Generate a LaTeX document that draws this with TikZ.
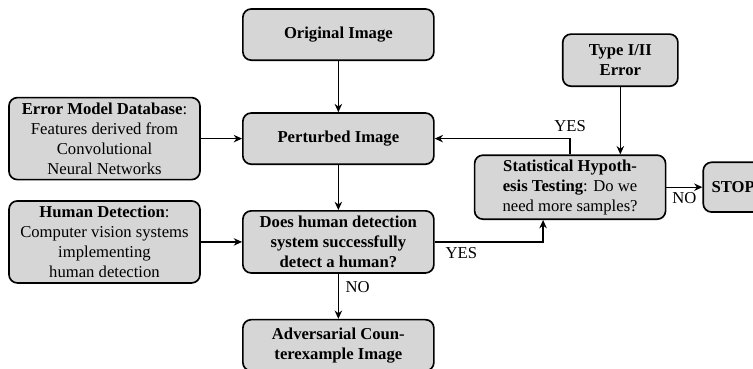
\documentclass[tikz,border=0pt]{standalone}
\usepackage{fontspec}
\setmainfont{Liberation Serif}
\usepackage{tikz}
\usetikzlibrary{arrows.meta, positioning, calc}
\definecolor{boxgray}{RGB}{214, 214, 214}

\begin{document}
\begin{tikzpicture}[
    stepbox/.style={draw, fill=boxgray, line width=1pt, rounded corners=5pt, minimum width=4.03cm, minimum height=1.08cm, font=\normalsize\rmfamily, align=center, inner sep=2pt},
    arrow/.style={-{Stealth[length=5pt, width=4.5pt]}, line width=0.8pt},
    label/.style={font=\normalsize\rmfamily, inner sep=1pt}
]
    \useasboundingbox (0,0) rectangle (15.89,-7.77);
    % Main column
    \node[stepbox] (original) at (7.14,-0.73) {\textbf{Original Image}};
    \node[stepbox, below=1.08cm of original] (perturbed) {\textbf{Perturbed Image}};
    \node[stepbox, minimum height=1.31cm, below=0.95cm of perturbed] (detect) {\textbf{Does human detection}\\\textbf{system successfully}\\\textbf{detect a human?}};
    \node[stepbox, below=0.95cm of detect] (adversarial) {\textbf{Adversarial Coun-}\\\textbf{terexample Image}};
    % Inputs on the left
    \node[stepbox, minimum height=1.73cm, left=0.87cm of perturbed] (errordb) {\textbf{Error Model Database}:\\Features derived from\\Convolutional\\Neural Networks};
    \node[stepbox, minimum height=1.73cm, left=0.87cm of detect] (humandet) {\textbf{Human Detection}:\\Computer vision systems\\implementing\\human detection};
    % Testing on the right
    \node[stepbox, minimum height=1.35cm] (stattest) at (12.03,-3.95) {\textbf{Statistical Hypoth-}\\\textbf{esis Testing}: Do we\\need more samples?};
    \node[stepbox, minimum width=2.43cm, minimum height=1.1cm] (typeerr) at (13.09,-1.27) {\textbf{Type I/II}\\\textbf{Error}};
    \node[stepbox, minimum width=0pt, inner xsep=5pt, minimum height=1.05cm, right=0.76cm of stattest] (stop) {\textbf{STOP}};

    % Connections
    \draw[arrow] (original) -- (perturbed);
    \draw[arrow] (errordb) -- (perturbed);
    \draw[arrow] (perturbed) -- (detect);
    \draw[arrow] (humandet) -- (detect);
    \draw[arrow] (detect) -- (adversarial) node[label, pos=0.3, right=3pt] {NO};
    \draw[arrow] (detect.east) -| ([xshift=-0.57cm]stattest.south) node[label, pos=0.04, below right=2pt and 0pt] {YES};
    \draw[arrow] (stattest.north) |- (perturbed.east) node[label, pos=0.5, above=3pt] {YES};
    \draw[arrow] (typeerr.south) -- (typeerr.south |- stattest.north);
    \draw[arrow] (stattest) -- (stop) node[label, midway, below=2pt] {NO};
\end{tikzpicture}
\end{document}
